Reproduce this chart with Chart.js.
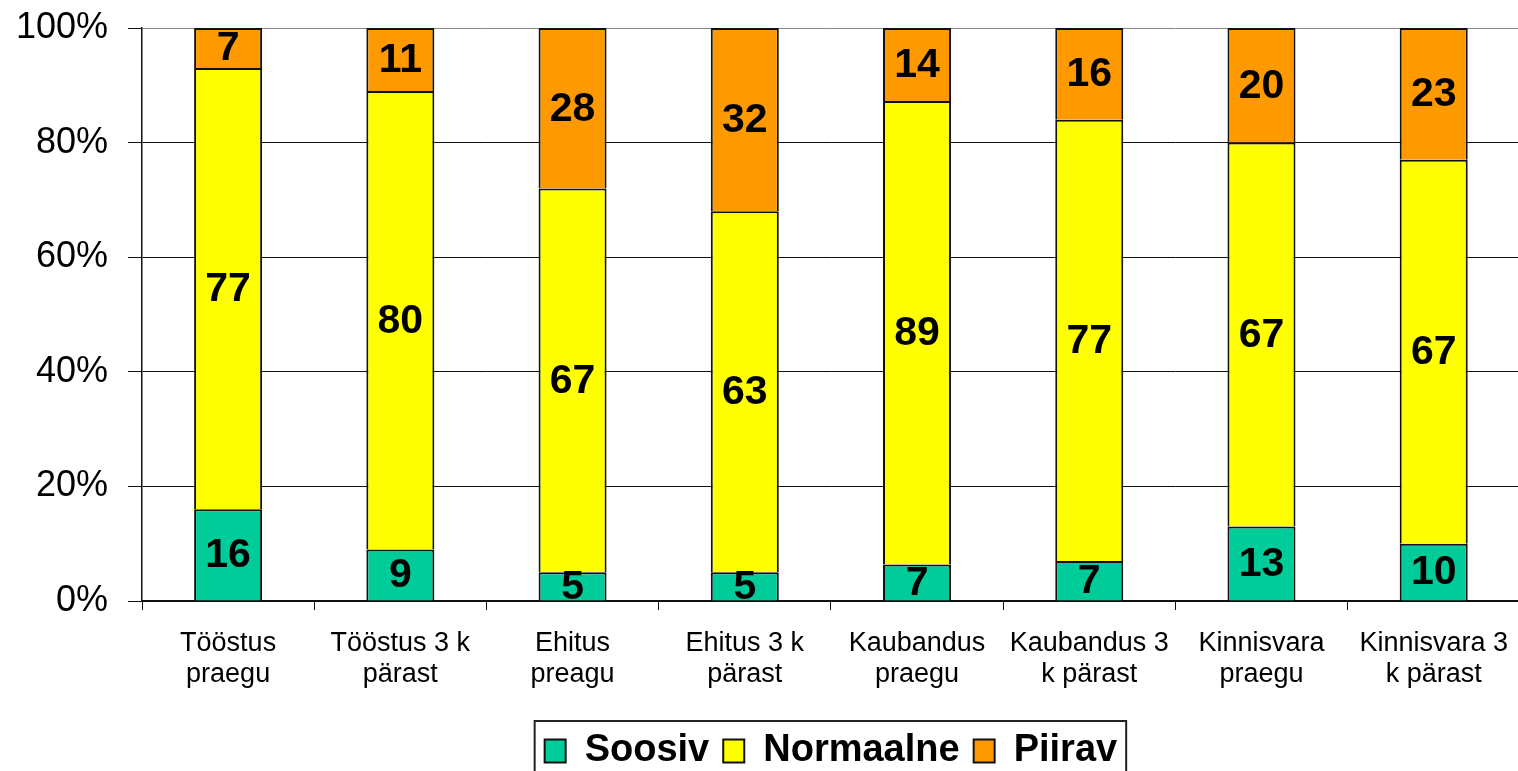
<!DOCTYPE html>
<html><head><meta charset="utf-8">
<script src="https://cdn.jsdelivr.net/npm/chart.js@4"></script>
<style>html,body{margin:0;padding:0;overflow:hidden;background:#fff}</style>
</head><body>
<canvas id="c" width="1526" height="780"></canvas>
<script>
const categories = [["Tööstus","praegu"],["Tööstus 3 k","pärast"],["Ehitus","preagu"],["Ehitus 3 k","pärast"],["Kaubandus","praegu"],["Kaubandus 3","k pärast"],["Kinnisvara","praegu"],["Kinnisvara 3","k pärast"]];
const seriesNames = ["Soosiv","Normaalne","Piirav"];
const soosiv    = [16, 9, 5, 5, 7, 7, 13, 10];
const normaalne = [77, 80, 67, 63, 89, 77, 67, 67];
const piirav    = [7, 11, 28, 32, 14, 16, 20, 23];
const yTicks = [0, 20, 40, 60, 80, 100];

const rawSeries = [soosiv, normaalne, piirav];
const colors = ["#00CC99", "#FFFF00", "#FF9900"];
const totals = categories.map((_, j) => rawSeries.reduce((s, a) => s + a[j], 0));
const FONT = "'Liberation Sans', Arial, Helvetica, sans-serif";

const valueLabels = {
  id: 'valueLabels',
  afterDatasetsDraw(chart) {
    const ctx = chart.ctx;
    ctx.save();
    ctx.font = "bold 41px " + FONT;
    ctx.fillStyle = '#000';
    ctx.textAlign = 'center';
    ctx.textBaseline = 'middle';
    chart.data.datasets.forEach((ds, i) => {
      const meta = chart.getDatasetMeta(i);
      meta.data.forEach((el, j) => {
        const y = (el.y + el.base) / 2;
        ctx.fillText(String(rawSeries[i][j]), el.x, y + 1);
      });
    });
    ctx.restore();
  }
};

const legendBorder = {
  id: 'legendBorder',
  afterDraw(chart) {
    const lg = chart.legend;
    if (!lg || !lg.legendHitBoxes || !lg.legendHitBoxes.length) return;
    const hb = lg.legendHitBoxes;
    const first = hb[0], last = hb[hb.length - 1];
    const left = first.left - 10;
    const right = last.left + last.width + 9;
    const top = first.top + first.height / 2 - 30;
    const ctx = chart.ctx;
    ctx.save();
    ctx.strokeStyle = '#222';
    ctx.lineWidth = 2;
    ctx.strokeRect(left, top, right - left, 100);
    ctx.restore();
  }
};

new Chart(document.getElementById('c'), {
  type: 'bar',
  data: {
    labels: categories,
    datasets: seriesNames.map((name, i) => ({
      label: name,
      data: rawSeries[i].map((v, j) => v / totals[j] * 100),
      backgroundColor: colors[i],
      borderColor: '#111',
      borderWidth: 2,
      borderSkipped: 'start',
      barPercentage: 0.395,
      categoryPercentage: 1.0
    }))
  },
  options: {
    responsive: false,
    animation: false,
    layout: { padding: { top: 28, left: 0, right: 0, bottom: 0 } },
    plugins: {
      tooltip: { enabled: false },
      legend: {
        position: 'bottom',
        fullSize: false,
        align: 'center',
        labels: {
          boxWidth: 21,
          boxHeight: 23,
          padding: 14,
          color: '#000',
          font: { family: FONT, size: 38, weight: 'bold' }
        }
      }
    },
    scales: {
      x: {
        stacked: true,
        offset: true,
        grid: { display: true, drawOnChartArea: false, drawTicks: true, tickLength: 9, color: '#111', offset: true },
        border: { display: true, color: '#111', width: 1.5 },
        ticks: { color: '#000', padding: 18, maxRotation: 0, autoSkip: false, font: { family: FONT, size: 27, lineHeight: 1.15 } },
        afterFit(scale) { scale.height = 117; }
      },
      y: {
        stacked: true,
        min: 0,
        max: 100,
        afterBuildTicks(scale) { scale.ticks = yTicks.map(v => ({ value: v })); },
        grid: {
          color: (c) => (c.tick && c.tick.value === 100) ? '#888' : '#111',
          tickColor: '#111',
          tickLength: 14,
          drawTicks: true,
          lineWidth: 1
        },
        border: { display: true, color: '#111', width: 1.5 },
        ticks: { color: '#000', padding: 20, font: { family: FONT, size: 36, lineHeight: 0.4 }, callback: (v) => v + '%' },
        afterFit(scale) { scale.width = 142; }
      }
    }
  },
  plugins: [valueLabels, legendBorder]
});
</script>
</body></html>
